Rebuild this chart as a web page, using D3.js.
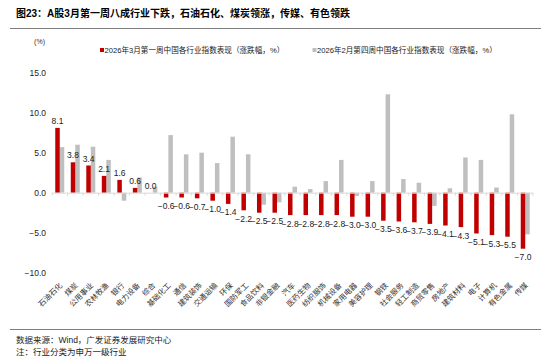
<!DOCTYPE html>
<html><head><meta charset="utf-8">
<script src="https://cdn.jsdelivr.net/npm/d3@7/dist/d3.min.js"></script>
<style>
body{margin:0;background:#fff;}
svg text{font-family:"Liberation Sans","Noto Sans CJK SC",sans-serif;}
</style></head>
<body><svg id="c" width="550" height="360"></svg>
<script>
const categories = ["石油石化","煤炭","公用事业","农林牧渔","银行","电力设备","综合","基础化工","通信","建筑装饰","交通运输","环保","国防军工","食品饮料","非银金融","汽车","医药生物","纺织服饰","机械设备","家用电器","美容护理","钢铁","社会服务","轻工制造","商贸零售","房地产","建筑材料","电子","计算机","有色金属","传媒"];
const marchWeek1 = [8.1,3.8,3.4,2.1,1.6,0.6,0.0,-0.6,-0.6,-0.7,-1.0,-1.4,-2.2,-2.5,-2.5,-2.8,-2.8,-2.8,-2.8,-3.0,-3.0,-3.5,-3.6,-3.7,-3.9,-4.1,-4.3,-5.1,-5.3,-5.5,-7.0];
const febWeek4 = [5.7,6.0,5.75,4.1,-1.0,1.9,0.75,7.2,4.8,5.0,3.7,7.0,4.8,-1.5,-1.2,0.75,0.45,1.45,4.1,-0.4,1.45,12.3,1.7,1.25,-1.65,0.55,4.4,4.1,0.65,9.8,-5.2];
const yTicks = [-10,-5,0,5,10,15];
const seriesNames = ["2026年3月第一周中国各行业指数表现（涨跌幅，%）","2026年2月第四周中国各行业指数表现（涨跌幅，%）"];
const colors = ["#C00000","#BFBFBF"];

const svg = d3.select("#c");
const x = d3.scaleBand().domain(categories).range([52,533]).paddingInner(0.42).paddingOuter(0.21);
const xs = d3.scaleBand().domain([0,1]).range([0,x.bandwidth()]);
const y = d3.scaleLinear().domain([-10,15]).range([272.7,72.7]);

// title
svg.append("text").attr("x",16).attr("y",16.5).attr("font-size",10).attr("font-weight","bold").attr("fill","#000")
  .text("图23：A股3月第一周八成行业下跌，石油石化、煤炭领涨，传媒、有色领跌");
svg.append("line").attr("x1",10).attr("x2",541).attr("y1",28.5).attr("y2",28.5).attr("stroke","#7f7f7f").attr("stroke-width",1);

// unit
svg.append("text").attr("x",45).attr("y",44).attr("text-anchor","end").attr("font-size",7).attr("fill","#333").text("(%)");

// y axis labels
const ya = svg.append("g").attr("transform","translate(46,0)")
  .call(d3.axisLeft(y).tickValues(yTicks).tickSize(0).tickPadding(0).tickFormat(d3.format(".1f")));
ya.select(".domain").remove();
ya.selectAll("text").attr("font-size",8.5).attr("fill","#222").style("font-family",'"Liberation Sans",sans-serif');

// bars
const rows = categories.map((c,i)=>({c,v:[marchWeek1[i],febWeek4[i]]}));
[1,0].forEach(s=>{
  svg.append("g").selectAll("rect").data(rows).join("rect")
    .attr("x",d=>x(d.c)+xs(s))
    .attr("width",xs.bandwidth())
    .attr("y",d=>y(Math.max(0,d.v[s])))
    .attr("height",d=>Math.abs(y(d.v[s])-y(0)))
    .attr("fill",colors[s]);
});

// zero axis
const xa = svg.append("g").attr("transform",`translate(0,${y(0)})`)
  .call(d3.axisBottom(x).tickSize(0).tickFormat(""));
xa.select(".domain").attr("stroke","#d9d9d9").attr("d","M52,0.5H533");
svg.append("g").selectAll("line").data(d3.range(categories.length+1)).join("line")
  .attr("x1",i=>52+i*x.step()).attr("x2",i=>52+i*x.step())
  .attr("y1",y(0)).attr("y2",y(0)+3).attr("stroke","#d9d9d9");

// value labels
svg.append("g").selectAll("text").data(rows).join("text")
  .attr("x",d=>x(d.c)+xs(0)+xs.bandwidth()/2)
  .attr("y",d=>d.v[0]>=0 ? y(d.v[0])-4 : y(d.v[0])+11.5)
  .attr("text-anchor","middle").attr("font-size",8.5).attr("fill","#222")
  .text(d=>d3.format(".1f")(d.v[0]));

// category labels
svg.append("g").selectAll("text").data(categories).join("text")
  .attr("x",d=>x(d)+x.bandwidth()/2+3).attr("y",286)
  .attr("transform",d=>`rotate(-45,${x(d)+x.bandwidth()/2+3},286)`)
  .attr("text-anchor","end").attr("font-size",7.5).attr("fill","#333")
  .style("font-family",'"Noto Sans CJK SC",sans-serif')
  .text(d=>d);

// legend
const lg = [{x:100},{x:312.5}];
seriesNames.forEach((n,i)=>{
  svg.append("rect").attr("x",lg[i].x).attr("y",48).attr("width",4).attr("height",4).attr("fill",colors[i]);
  svg.append("text").attr("x",lg[i].x+4.5).attr("y",53).attr("font-size",7.6).attr("fill","#222").text(n);
});

// footer
svg.append("line").attr("x1",10).attr("x2",541).attr("y1",329.5).attr("y2",329.5).attr("stroke","#7f7f7f").attr("stroke-width",1);
svg.append("text").attr("x",16).attr("y",343).attr("font-size",8.5).attr("fill","#222").text("数据来源：Wind，广发证券发展研究中心");
svg.append("text").attr("x",16).attr("y",355).attr("font-size",8.5).attr("fill","#222").text("注：行业分类为申万一级行业");
</script></body></html>
